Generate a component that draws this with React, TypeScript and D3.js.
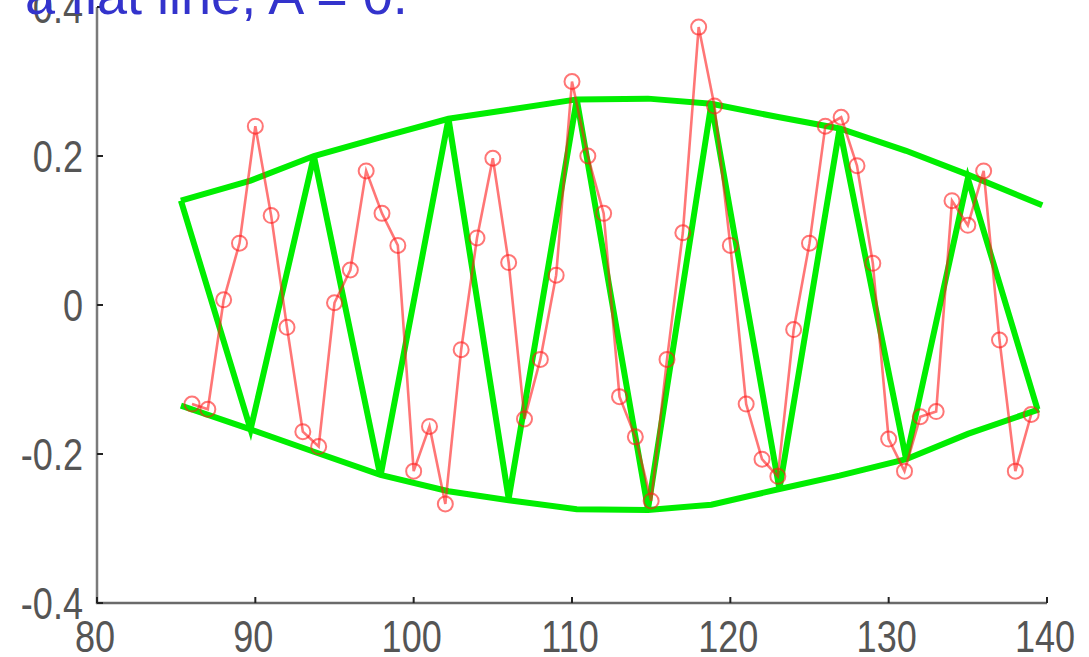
import React from "react";
import * as d3 from "d3";

const W = 1089;
const H = 657;

// Red sampled series (x = 86..139)
const redX = d3.range(86, 140);
const redY = [
  -0.133, -0.14, 0.007, 0.083, 0.24, 0.12, -0.03, -0.17, -0.19, 0.003,
  0.047, 0.18, 0.123, 0.08, -0.223, -0.163, -0.267, -0.06, 0.09, 0.197,
  0.057, -0.153, -0.073, 0.04, 0.3, 0.2, 0.123, -0.123, -0.177, -0.263,
  -0.073, 0.097, 0.373, 0.267, 0.08, -0.133, -0.207, -0.23, -0.033, 0.083,
  0.24, 0.252, 0.187, 0.056, -0.18, -0.223, -0.15, -0.143, 0.14, 0.107,
  0.18, -0.047, -0.223, -0.147,
];

// Green zig-zag signal
const greenX = [85.3, 89.7, 93.7, 97.9, 102.2, 106.0, 110.3, 114.8, 118.8, 123.1, 126.9, 131.1, 135.0, 139.4];
const greenY = [0.14, -0.167, 0.2, -0.23, 0.25, -0.26, 0.276, -0.274, 0.27, -0.247, 0.237, -0.207, 0.17, -0.14];

// Envelope
const envUpperX = [85.3, 89.7, 93.7, 97.9, 102.2, 106.0, 110.3, 114.8, 118.8, 123.1, 126.9, 131.1, 135.0, 139.7];
const envUpperY = [0.14, 0.167, 0.2, 0.225, 0.25, 0.262, 0.276, 0.277, 0.27, 0.252, 0.237, 0.207, 0.175, 0.134];
const envLowerX = [85.3, 89.7, 93.7, 97.9, 102.2, 106.0, 110.3, 114.8, 118.8, 123.1, 126.9, 131.1, 135.0, 139.5];
const envLowerY = [-0.135, -0.167, -0.197, -0.228, -0.25, -0.262, -0.274, -0.275, -0.268, -0.247, -0.229, -0.207, -0.173, -0.14];

const xTicks = [80, 90, 100, 110, 120, 130, 140];
const yTicks = [-0.4, -0.2, 0, 0.2, 0.4];
const yTickLabels = ["-0.4", "-0.2", "0", "0.2", "0.4"];

const titleText = "a flat line, A = 0.";

export default function App() {
  const x = d3.scaleLinear().domain([80, 140]).range([97, 1047]);
  const y = d3.scaleLinear().domain([-0.4, 0.4]).range([603, 7]);

  const line = d3
    .line<[number, number]>()
    .x((d) => x(d[0]))
    .y((d) => y(d[1]));

  const green = line(greenX.map((v, i) => [v, greenY[i]]) as [number, number][]) || "";
  const upper = line(envUpperX.map((v, i) => [v, envUpperY[i]]) as [number, number][]) || "";
  const lower = line(envLowerX.map((v, i) => [v, envLowerY[i]]) as [number, number][]) || "";
  const redPts = redX.map((v, i) => [v, redY[i]] as [number, number]);
  const red = line(redPts) || "";

  const font = "'Liberation Sans', Arial, sans-serif";
  const labelColor = "#555";

  return (
    <svg
      width={W}
      height={H}
      style={{ position: "absolute", left: 0, top: 0, display: "block", background: "#fff" }}
    >
      <rect x={0} y={0} width={W} height={H} fill="#fff" />

      {/* green curves */}
      <g fill="none" stroke="rgb(0,238,0)" strokeWidth={6} strokeLinejoin="miter" strokeMiterlimit={4}>
        <path d={upper} />
        <path d={lower} />
        <path d={green} />
      </g>

      {/* red series */}
      <g fill="none" stroke="#ff1a1a" strokeOpacity={0.6} strokeWidth={2.6}>
        <path d={red} />
        {redPts.map((p, i) => (
          <circle key={i} cx={x(p[0])} cy={y(p[1])} r={7.5} strokeWidth={2} />
        ))}
      </g>

      {/* axes */}
      <line x1={97} x2={97} y1={y(0.4)} y2={y(-0.4) + 1} stroke="#7a7a7a" strokeWidth={2.5} />
      <line x1={96} x2={x(140)} y1={603} y2={603} stroke="#6a6a6a" strokeWidth={2.5} />
      {xTicks.map((t) => (
        <line key={"xt" + t} x1={x(t)} x2={x(t)} y1={603} y2={597} stroke="#222" strokeWidth={2} />
      ))}
      {yTicks.map((t) => (
        <line key={"yt" + t} x1={97} x2={103} y1={y(t)} y2={y(t)} stroke="#222" strokeWidth={2} />
      ))}

      {/* tick labels */}
      {xTicks.map((t) => (
        <text
          key={"xl" + t}
          transform={`translate(${x(t) - 2},652) scale(0.82,1)`}
          textAnchor="middle"
          fontFamily={font}
          fontSize={44}
          fill={labelColor}
        >
          {String(t)}
        </text>
      ))}
      {yTicks.map((t, i) => (
        <text
          key={"yl" + t}
          transform={`translate(83,${y(t) + 16}) scale(0.82,1)`}
          textAnchor="end"
          fontFamily={font}
          fontSize={44}
          fill={labelColor}
        >
          {yTickLabels[i]}
        </text>
      ))}

      {/* cut-off title text */}
      <text x={25} y={14} fontFamily={font} fontSize={54} fill="#3333cc">
        {titleText}
      </text>
    </svg>
  );
}
